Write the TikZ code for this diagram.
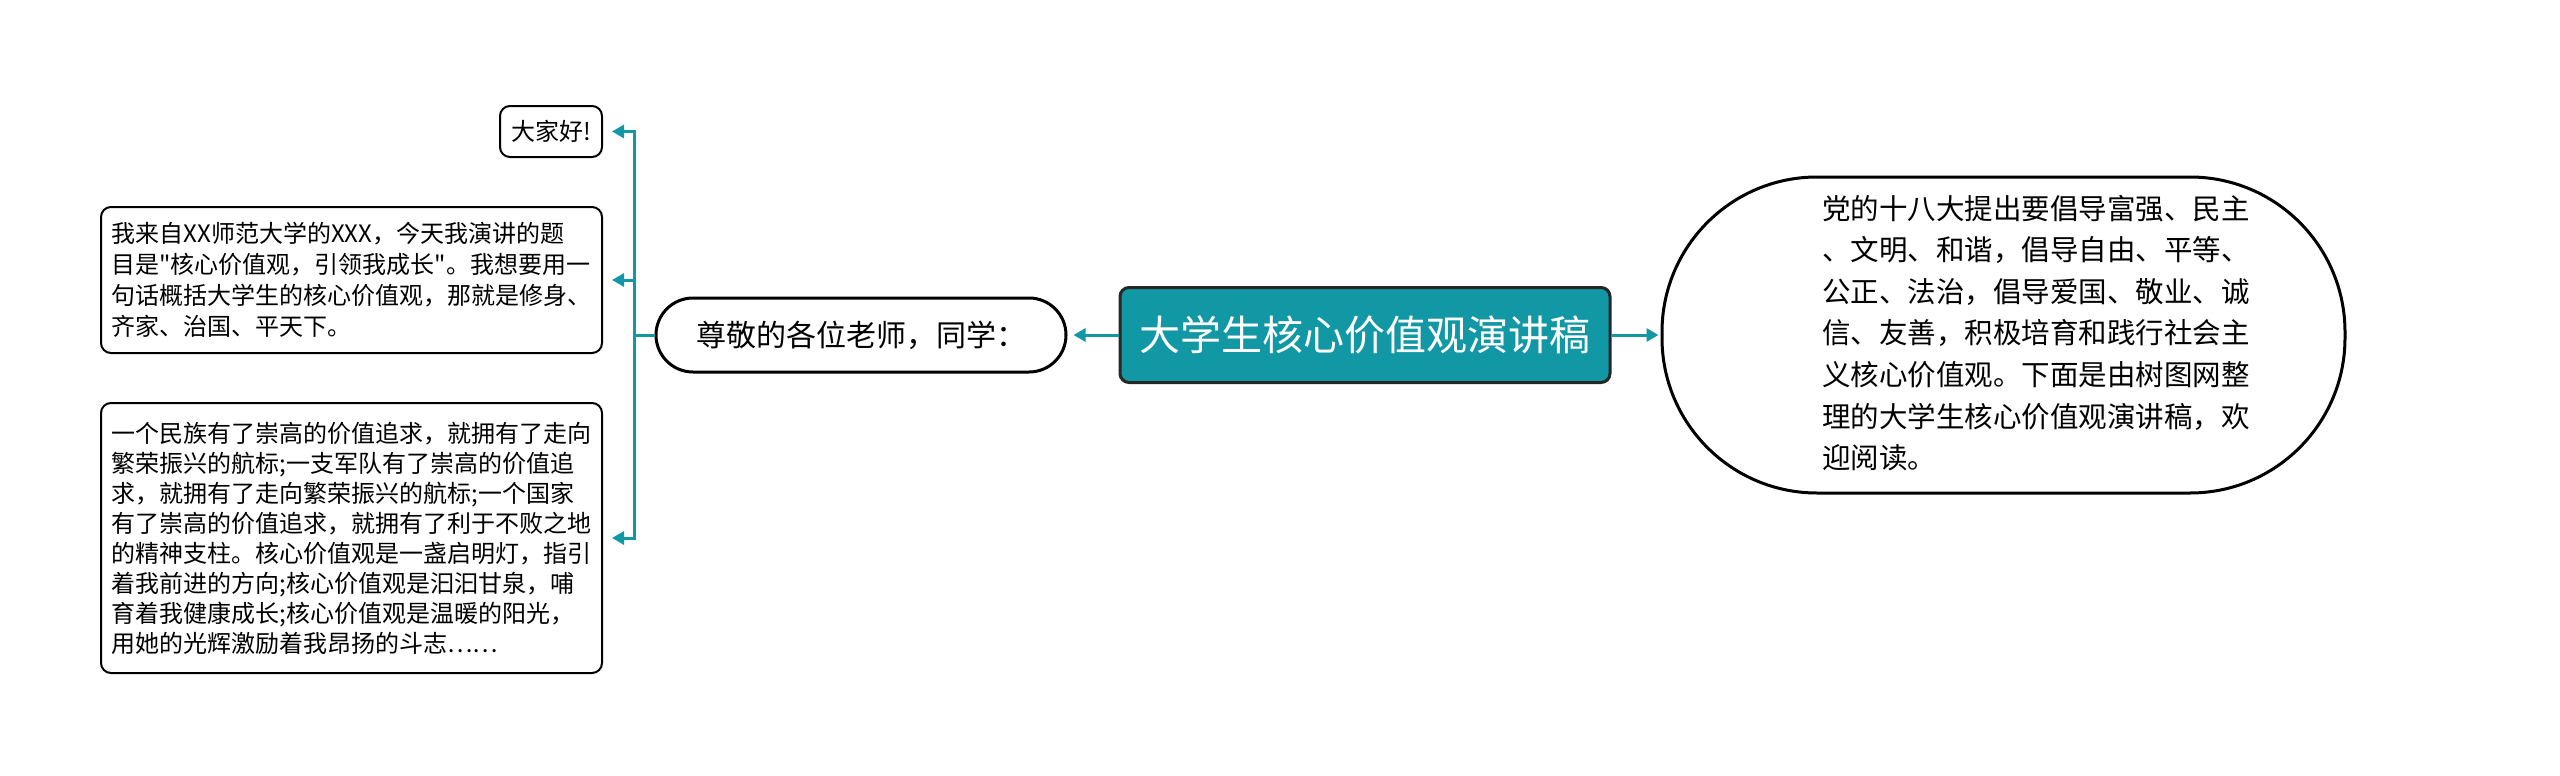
\documentclass[tikz,border=0pt]{standalone}
\usepackage{fontspec}
\setmainfont{Noto Sans CJK SC}[Ligatures=TeXOff]
\usetikzlibrary{arrows.meta}
\definecolor{teal1}{RGB}{17,152,164}
\tikzset{
  conn/.style={draw=teal1, line width=3pt, -{Triangle[length=12pt,width=13pt]}},
  leafbox/.style={draw=black, line width=2pt, rounded corners=10pt, fill=white, inner sep=0pt},
  leaftext/.style={font=\fontsize{24pt}{31pt}\selectfont, align=left, inner sep=0pt},
}
\begin{document}
\begin{tikzpicture}[x=1pt,y=-1pt]
\useasboundingbox (0,0) rectangle (2560,776);
% root
\node[draw=black!85, line width=3pt, fill=teal1, rounded corners=9pt, minimum width=490pt, minimum height=95pt, inner sep=0pt, text=white, font=\fontsize{41pt}{48pt}\selectfont] (root) at (1365,335) {大学生核心价值观演讲稿};
% pill
\node[draw=black, line width=3pt, rounded corners=37pt, minimum width=410pt, minimum height=74pt, inner sep=0pt, font=\fontsize{30pt}{36pt}\selectfont] (pill) at (861,335) {尊敬的各位老师，同学：};
% left leaves
\node[leafbox, minimum width=102pt, minimum height=51pt, font=\fontsize{24pt}{30pt}\selectfont] (hello) at (551,131.5) {大家好!};
\node[leafbox, minimum width=501pt, minimum height=146pt] (box2) at (351.5,280) {};
\node[leaftext] (box2text) at (351.5,280) {我来自XX师范大学的XXX，今天我演讲的题\\目是"核心价值观，引领我成长"。我想要用一\\句话概括大学生的核心价值观，那就是修身、\\齐家、治国、平天下。};
\node[leafbox, minimum width=501pt, minimum height=270pt] (box3) at (351.5,538) {};
\node[leaftext, font=\fontsize{24pt}{30pt}\selectfont] (box3text) at (351.5,538) {一个民族有了崇高的价值追求，就拥有了走向\\繁荣振兴的航标;一支军队有了崇高的价值追\\求，就拥有了走向繁荣振兴的航标;一个国家\\有了崇高的价值追求，就拥有了利于不败之地\\的精神支柱。核心价值观是一盏启明灯，指引\\着我前进的方向;核心价值观是汩汩甘泉，哺\\育着我健康成长;核心价值观是温暖的阳光，\\用她的光辉激励着我昂扬的斗志……};
% right node
\node[draw=black, line width=3pt, rounded corners=155pt, minimum width=683pt, minimum height=316pt, inner sep=0pt] (right) at (2003.5,335) {};
\node[align=left, inner sep=0pt, font=\fontsize{28.5pt}{41.6pt}\selectfont, anchor=west] (righttext) at (1822,333) {党的十八大提出要倡导富强、民主\\、文明、和谐，倡导自由、平等、\\公正、法治，倡导爱国、敬业、诚\\信、友善，积极培育和践行社会主\\义核心价值观。下面是由树图网整\\理的大学生核心价值观演讲稿，欢\\迎阅读。};
% connectors
\coordinate (trunk) at (634,335);
\draw[conn, shorten >=6pt] (root.west) -- (pill.east);
\draw[conn, shorten >=2pt] (root.east) -- (right.west);
\draw[draw=teal1, line width=3pt] (pill.west) -- (trunk);
\draw[conn, shorten >=9pt] (trunk) |- (hello.east);
\draw[conn, shorten >=9pt] (trunk) |- (box2.east);
\draw[conn, shorten >=9pt] (trunk) |- (box3.east);
\end{tikzpicture}
\end{document}
